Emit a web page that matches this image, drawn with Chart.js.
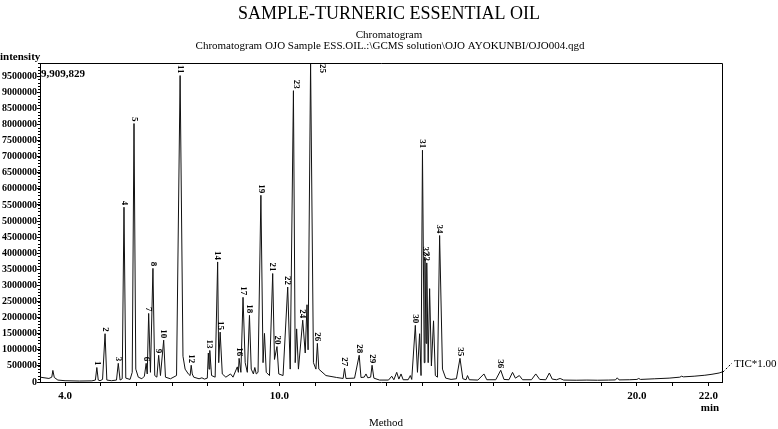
<!DOCTYPE html>
<html>
<head>
<meta charset="utf-8">
<script src="https://cdn.jsdelivr.net/npm/chart.js@4.4.1/dist/chart.umd.min.js"></script>
<style>
  html, body { margin: 0; padding: 0; background: #fff; }
  #grafico { display: block; }
</style>
</head>
<body>
<canvas id="grafico" width="778" height="429"></canvas>
<script>
// trace del cromatograma (tiempo en min, intensidad)
const traceTime = [
  3.30, 3.55, 3.63, 3.66, 3.70, 3.80, 4.00, 4.40, 4.75, 4.85, 4.89, 4.93, 4.98, 5.05, 5.12, 5.17,
  5.30, 5.44, 5.49, 5.54, 5.60, 5.65, 5.70, 5.82, 5.88, 5.93, 5.98, 6.05, 6.15, 6.22, 6.27, 6.30,
  6.34, 6.39, 6.46, 6.51, 6.57, 6.62, 6.67, 6.76, 6.81, 6.95, 7.12, 7.22, 7.30, 7.36, 7.45, 7.50,
  7.53, 7.56, 7.60, 7.75, 7.83, 7.90, 7.98, 8.01, 8.03, 8.05, 8.10, 8.20, 8.27, 8.30, 8.34, 8.40,
  8.50, 8.63, 8.70, 8.82, 8.85, 8.87, 8.92, 8.98, 9.04, 9.10, 9.16, 9.21, 9.27, 9.31, 9.35, 9.40,
  9.48, 9.54, 9.58, 9.63, 9.72, 9.81, 9.86, 9.93, 9.98, 10.10, 10.23, 10.30, 10.39, 10.44, 10.48, 10.53,
  10.65, 10.72, 10.77, 10.80, 10.87, 10.95, 11.02, 11.06, 11.10, 11.30, 11.60, 11.78, 11.82, 11.86, 12.10, 12.23,
  12.28, 12.37, 12.42, 12.47, 12.55, 12.59, 12.64, 12.80, 13.05, 13.14, 13.20, 13.28, 13.34, 13.40, 13.46, 13.60,
  13.66, 13.70, 13.80, 13.86, 13.92, 13.96, 14.00, 14.05, 14.07, 14.10, 14.12, 14.16, 14.20, 14.25, 14.31, 14.36,
  14.42, 14.48, 14.56, 14.65, 14.80, 14.95, 15.05, 15.13, 15.22, 15.26, 15.31, 15.55, 15.72, 15.80, 16.05, 16.19,
  16.28, 16.42, 16.52, 16.60, 16.71, 16.80, 17.05, 17.17, 17.28, 17.45, 17.55, 17.63, 17.75, 17.85, 17.95, 18.30,
  18.60, 18.90, 19.20, 19.40, 19.45, 19.50, 19.80, 20.00, 20.05, 20.10, 20.50, 20.90, 21.20, 21.25, 21.30, 21.60,
  21.90, 22.10, 22.30, 22.38
];
const traceIntensity = [
  150000, 110000, 150000, 360000, 140000, 60000, 40000, 30000, 35000, 60000, 450000, 60000, 40000, 80000, 1500000, 60000,
  40000, 60000, 580000, 60000, 100000, 5430000, 120000, 80000, 300000, 8030000, 400000, 150000, 100000, 180000, 580000, 250000,
  2130000, 300000, 3530000, 200000, 150000, 830000, 200000, 1300000, 150000, 100000, 200000, 9520000, 800000, 400000, 250000, 200000,
  520000, 250000, 150000, 100000, 130000, 90000, 120000, 900000, 400000, 980000, 200000, 150000, 3730000, 600000, 1550000, 250000,
  150000, 250000, 150000, 470000, 300000, 735000, 300000, 2630000, 600000, 300000, 2070000, 400000, 250000, 450000, 250000, 300000,
  5800000, 600000, 1510000, 300000, 200000, 3370000, 700000, 1100000, 250000, 200000, 2950000, 400000, 9050000, 600000, 1650000, 400000,
  1920000, 900000, 2400000, 1000000, 9909829, 600000, 400000, 1200000, 400000, 200000, 140000, 110000, 425000, 110000, 120000, 830000,
  140000, 150000, 250000, 130000, 150000, 520000, 120000, 60000, 60000, 180000, 70000, 300000, 90000, 250000, 70000, 70000,
  200000, 80000, 1760000, 300000, 1500000, 200000, 7200000, 600000, 3870000, 1200000, 3700000, 600000, 2900000, 500000, 1900000, 200000,
  150000, 4550000, 400000, 120000, 80000, 100000, 735000, 100000, 70000, 200000, 70000, 60000, 250000, 70000, 70000, 365000,
  80000, 70000, 300000, 120000, 200000, 70000, 70000, 250000, 80000, 70000, 280000, 90000, 70000, 110000, 60000, 55000,
  60000, 55000, 60000, 65000, 130000, 65000, 70000, 80000, 110000, 80000, 100000, 120000, 150000, 180000, 160000, 180000,
  210000, 240000, 280000, 310000
];

// etiquetas de picos
const peakNo = ['1','2','3','4','5','6','7','8','9','10','11','12','13','14','15','16','17','18',
  '19','20','21','22','23','24','25','26','27','28','29','30','31','32','33','34','35','36'];
const peakTime = [4.89, 5.12, 5.49, 5.65, 5.93, 6.27, 6.34, 6.46, 6.62, 6.76, 7.22, 7.53, 8.04, 8.27, 8.34, 8.87, 8.98, 9.16,
  9.48, 9.93, 9.81, 10.23, 10.46, 10.65, 11.19, 11.06, 11.82, 12.23, 12.59, 13.80, 14.00, 14.07, 14.12, 14.48, 15.05, 16.19];
const peakHeight = [450000, 1500000, 580000, 5430000, 8030000, 580000, 2130000, 3530000, 830000, 1300000, 9520000, 520000,
  980000, 3730000, 1550000, 735000, 2630000, 2070000, 5800000, 1100000, 3370000, 2950000, 9050000, 1920000, 9909829,
  1200000, 425000, 830000, 520000, 1760000, 7200000, 3870000, 3700000, 4550000, 735000, 365000];

const xTicks = [4, 5, 6, 7, 8, 9, 10, 11, 12, 13, 14, 15, 16, 17, 18, 19, 20, 21, 22];
const xTickLabels = { 4: '4.0', 10: '10.0', 20: '20.0', 22: '22.0' };
const yTicks = [0, 500000, 1000000, 1500000, 2000000, 2500000, 3000000, 3500000, 4000000, 4500000,
  5000000, 5500000, 6000000, 6500000, 7000000, 7500000, 8000000, 8500000, 9000000, 9500000];
const yMax = 9909829;

const serif = "'Liberation Serif', 'DejaVu Serif', serif";

const puntos = traceTime.map((t, i) => ({ x: t, y: traceIntensity[i] }));

const textos = {
  id: 'textos',
  afterDraw(chart) {
    const ctx = chart.ctx;
    const a = chart.chartArea;
    const xs = chart.scales.x, ys = chart.scales.y;
    ctx.save();
    ctx.fillStyle = '#000';
    ctx.strokeStyle = '#000';

    // marco
    ctx.lineWidth = 1;
    ctx.beginPath();
    ctx.moveTo(a.left, a.top + 0.5);
    ctx.lineTo(a.right + 0.5, a.top + 0.5);
    ctx.lineTo(a.right + 0.5, a.bottom);
    ctx.stroke();

    // ticks menores eje y
    ctx.beginPath();
    for (let v = 0; v <= yMax; v += 100000) {
      const y = Math.round(ys.getPixelForValue(v)) + 0.5;
      ctx.moveTo(a.left - 2, y);
      ctx.lineTo(a.left, y);
    }
    ctx.stroke();

    // titulos
    ctx.textAlign = 'center';
    ctx.textBaseline = 'middle';
    ctx.font = '18px ' + serif;
    ctx.fillText('SAMPLE-TURNERIC ESSENTIAL OIL', 389, 14);
    ctx.font = '11px ' + serif;
    ctx.fillText('Chromatogram', 389, 35);
    ctx.fillText('Chromatogram OJO Sample ESS.OIL.:\\GCMS solution\\OJO AYOKUNBI/OJO004.qgd', 390, 46);
    ctx.fillText('Method', 386, 423);
    ctx.font = 'bold 11px ' + serif;
    ctx.fillText('min', 710, 408);

    ctx.textAlign = 'left';
    ctx.font = 'bold 11px ' + serif;
    ctx.fillText('intensity', 0, 57);
    ctx.fillText('9,909,829', a.left + 1, 74);
    ctx.font = '11px ' + serif;
    ctx.fillText('TIC*1.00', 734, 364);

    ctx.setLineDash([2, 2]);
    ctx.beginPath();
    ctx.moveTo(a.right + 1, 372);
    ctx.lineTo(732, 363);
    ctx.stroke();
    ctx.setLineDash([]);

    // numeros de picos
    ctx.font = 'bold 9px ' + serif;
    ctx.textBaseline = 'middle';
    peakNo.forEach((n, i) => {
      const x = xs.getPixelForValue(peakTime[i]);
      const w = ctx.measureText(n).width;
      let yb = ys.getPixelForValue(peakHeight[i]) - 2;
      if (yb - w < a.top + 1) yb = a.top + 1 + w;
      ctx.save();
      ctx.translate(x, yb - w);
      ctx.rotate(Math.PI / 2);
      ctx.textAlign = 'left';
      ctx.fillText(n, 0, 0);
      ctx.restore();
    });
    ctx.restore();
  }
};

new Chart(document.getElementById('grafico'), {
  type: 'line',
  data: {
    datasets: [{
      label: 'TIC',
      data: puntos,
      borderColor: '#111',
      borderWidth: 1,
      pointRadius: 0,
      tension: 0,
      fill: false
    }]
  },
  options: {
    responsive: false,
    animation: false,
    devicePixelRatio: 1,
    layout: { padding: { top: 63, right: 56, left: 0, bottom: 0 } },
    plugins: {
      legend: { display: false },
      tooltip: { enabled: false }
    },
    scales: {
      x: {
        type: 'linear',
        min: 3.3,
        max: 22.38,
        afterBuildTicks: axis => { axis.ticks = xTicks.map(v => ({ value: v })); },
        afterFit: scale => { scale.height = 47; },
        grid: { display: true, drawOnChartArea: false, drawTicks: true, tickLength: 4, color: '#000' },
        border: { color: '#000', width: 1 },
        ticks: {
          autoSkip: false,
          maxRotation: 0,
          padding: 4,
          color: '#000',
          font: { family: serif, size: 11, weight: 'bold' },
          callback: v => xTickLabels[v] || ''
        }
      },
      y: {
        min: 0,
        max: yMax,
        afterBuildTicks: axis => { axis.ticks = yTicks.map(v => ({ value: v })); },
        afterFit: scale => { scale.width = 40; },
        grid: { display: true, drawOnChartArea: false, drawTicks: true, tickLength: 3, color: '#000' },
        border: { color: '#000', width: 1 },
        ticks: {
          autoSkip: false,
          padding: 0,
          color: '#000',
          font: { family: serif, size: 10, weight: 'bold' },
          callback: v => String(v)
        }
      }
    }
  },
  plugins: [textos]
});
</script>
</body>
</html>
